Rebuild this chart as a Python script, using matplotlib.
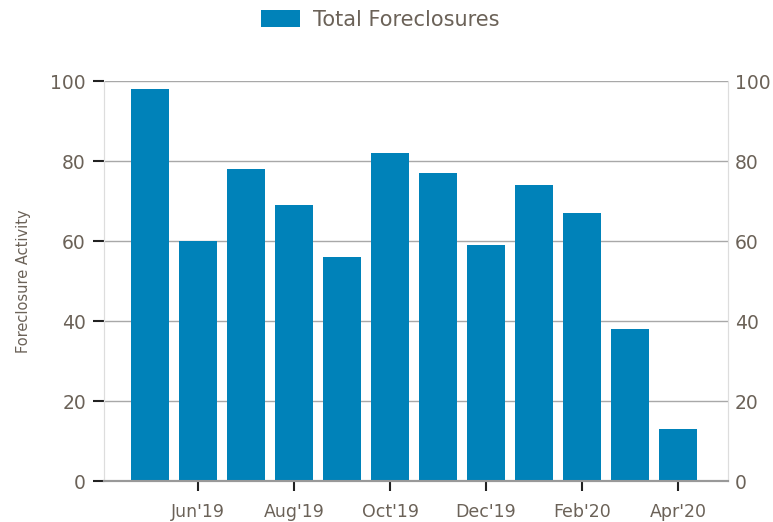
#!/usr/bin/env python3
"""Monthly foreclosure activity bar chart, May'19 - Apr'20."""
import matplotlib.pyplot as plt

MONTHS = ["May'19", "Jun'19", "Jul'19", "Aug'19", "Sep'19", "Oct'19",
          "Nov'19", "Dec'19", "Jan'20", "Feb'20", "Mar'20", "Apr'20"]
FORECLOSURES = [98, 60, 78, 69, 56, 82, 77, 59, 74, 67, 38, 13]
Y_TICKS = [0, 20, 40, 60, 80, 100]

BAR_COLOR = "#0082b9"
TEXT_COLOR = "#6b6258"
GRID_COLOR = "#a8a8a8"

fig = plt.figure(figsize=(7.73, 5.22), dpi=100)
ax = fig.add_axes([0.1345, 0.0785, 0.8073, 0.7663])

x = list(range(len(MONTHS)))
ax.bar(x, FORECLOSURES, width=0.8, color=BAR_COLOR, label="Total Foreclosures", zorder=3)

ax.set_xlim(-0.96, len(MONTHS) - 1 + 1.04)
ax.set_ylim(0, 100)
ax.set_yticks(Y_TICKS)
ax.yaxis.grid(True, color=GRID_COLOR, linewidth=1.0, zorder=0)

# only every other month is labelled
ax.set_xticks(x[1::2])
ax.set_xticklabels(MONTHS[1::2])
ax.tick_params(axis="x", length=7, width=1.5, color="#222222", pad=9,
               labelsize=12.5, labelcolor=TEXT_COLOR)
ax.tick_params(axis="y", length=8, width=1.5, color="#222222", pad=5,
               labelsize=13.5, labelcolor=TEXT_COLOR)

ax2 = ax.twinx()
ax2.set_ylim(ax.get_ylim())
ax2.set_yticks(Y_TICKS)
ax2.tick_params(axis="y", length=0, pad=5, labelsize=13.5, labelcolor=TEXT_COLOR)

for a in (ax, ax2):
    a.spines["top"].set_visible(False)
    a.spines["left"].set_color("#dddddd")
    a.spines["right"].set_color("#dddddd")
    a.spines["bottom"].set_color("#999999")
    a.spines["bottom"].set_linewidth(1.5)

ax.set_ylabel("Foreclosure Activity", color=TEXT_COLOR, fontsize=10.5, labelpad=14)

handles, labels = ax.get_legend_handles_labels()
fig.legend(handles, labels, loc="center", bbox_to_anchor=(380 / 773, 1 - 20 / 522),
           frameon=False, fontsize=15, labelcolor=TEXT_COLOR, handlelength=1.9,
           handleheight=0.9, handletextpad=0.6)

fig.savefig("out.png")
